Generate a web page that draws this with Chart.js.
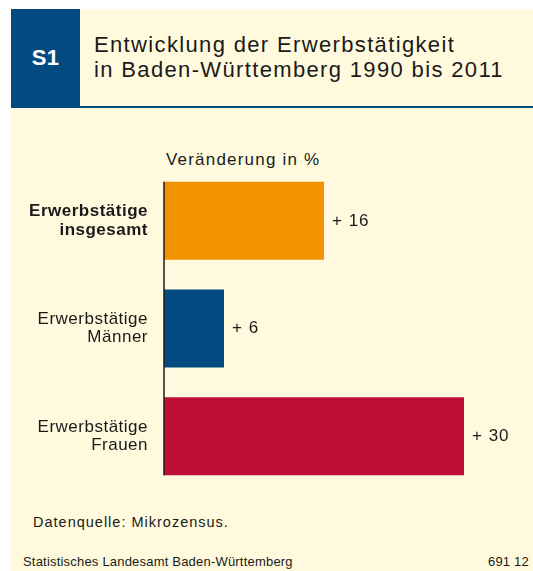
<!DOCTYPE html>
<html lang="de">
<head>
<meta charset="utf-8">
<script src="https://cdn.jsdelivr.net/npm/chart.js@4/dist/chart.umd.min.js"></script>
<style>
  html, body { margin: 0; padding: 0; background: #fff; }
  #page { position: relative; width: 533px; height: 571px; overflow: hidden; background: #fff;
          font-family: "Liberation Sans", Arial, sans-serif; color: #1a1a1a; }
  .cream { position: absolute; left: 11px; top: 9px; width: 522px; height: 562px; background: #fffadd; }
  .badge { position: absolute; left: 11px; top: 9px; width: 69px; height: 98px; background: #034a80;
           color: #fff; font-weight: bold; font-size: 22px; line-height: 98px; text-align: center; letter-spacing: 0.3px; }
  .rule { position: absolute; left: 11px; top: 106px; width: 522px; height: 2px; background: #034a80; }
  .title { position: absolute; left: 94px; top: 32px; font-size: 22px; line-height: 25px; letter-spacing: 1.35px; white-space: nowrap; }
  .unit { position: absolute; left: 166px; top: 150px; font-size: 17px; line-height: 20px; letter-spacing: 1.2px; white-space: nowrap; }
  .source { position: absolute; left: 33px; top: 513px; font-size: 14.5px; line-height: 18px; letter-spacing: 1px; white-space: nowrap; }
  .foot { position: absolute; top: 554px; font-size: 13px; line-height: 16px; letter-spacing: 0.2px; white-space: nowrap; }
  canvas { position: absolute; left: 0; top: 0; }
</style>
</head>
<body>
<div id="page">
  <div class="cream"></div>
  <div class="badge">S1</div>
  <div class="title">Entwicklung der Erwerbstätigkeit<br>in Baden-Württemberg 1990 bis 2011</div>
  <div class="rule"></div>
  <div class="unit">Veränderung in %</div>
  <div class="source">Datenquelle: Mikrozensus.</div>
  <div class="foot" style="left:23px">Statistisches Landesamt Baden-Württemberg</div>
  <div class="foot" style="left:488px">691 12</div>
  <canvas id="chart" width="533" height="571"></canvas>
</div>
<script>
// Veränderung der Erwerbstätigen 1990–2011 in %
const categories = [
  ['Erwerbstätige', 'insgesamt'],
  ['Erwerbstätige', 'Männer'],
  ['Erwerbstätige', 'Frauen'],
];
const values = [16, 6, 30];
const barColors = ['#f39200', '#034a80', '#be1037'];

const FONT = '"Liberation Sans", Arial, sans-serif';

// labels like "+ 16" right of each bar, plus the zero line
const barDecor = {
  id: 'barDecor',
  beforeDraw(chart) {
    chart.ctx.letterSpacing = '0.5px';
  },
  afterDatasetsDraw(chart) {
    const ctx = chart.ctx;
    const bars = chart.getDatasetMeta(0).data;
    const x0 = chart.scales.x.getPixelForValue(0);
    const first = bars[0], last = bars[bars.length - 1];
    ctx.save();
    ctx.strokeStyle = '#1a1a1a';
    ctx.lineWidth = 1.5;
    ctx.beginPath();
    ctx.moveTo(x0, first.y - first.height / 2);
    ctx.lineTo(x0, last.y + last.height / 2);
    ctx.stroke();

    ctx.letterSpacing = '1px';
    ctx.fillStyle = '#1a1a1a';
    ctx.font = '17px ' + FONT;
    ctx.textAlign = 'left';
    ctx.textBaseline = 'middle';
    bars.forEach((bar, i) => {
      ctx.fillText('+ ' + values[i], bar.x + 8, bar.y);
    });
    ctx.restore();
  }
};

new Chart(document.getElementById('chart'), {
  type: 'bar',
  data: {
    labels: categories,
    datasets: [{
      data: values,
      backgroundColor: barColors,
      borderWidth: 0,
      barPercentage: 0.724,
      categoryPercentage: 1,
    }],
  },
  options: {
    indexAxis: 'y',
    responsive: false,
    animation: false,
    devicePixelRatio: 1,
    layout: { padding: { top: 167, bottom: 81, left: 0, right: 9 } },
    plugins: {
      legend: { display: false },
      tooltip: { enabled: false },
    },
    scales: {
      x: { display: false, min: 0, max: 36 },
      y: {
        grid: { display: false },
        border: { display: false },
        afterFit: (scale) => { scale.width = 164; },
        ticks: {
          padding: 8,
          color: '#1a1a1a',
          font: (c) => ({ family: FONT, size: 17, lineHeight: 1.08, weight: c.index === 0 ? 'bold' : 'normal' }),
        },
      },
    },
  },
  plugins: [barDecor],
});
</script>
</body>
</html>
